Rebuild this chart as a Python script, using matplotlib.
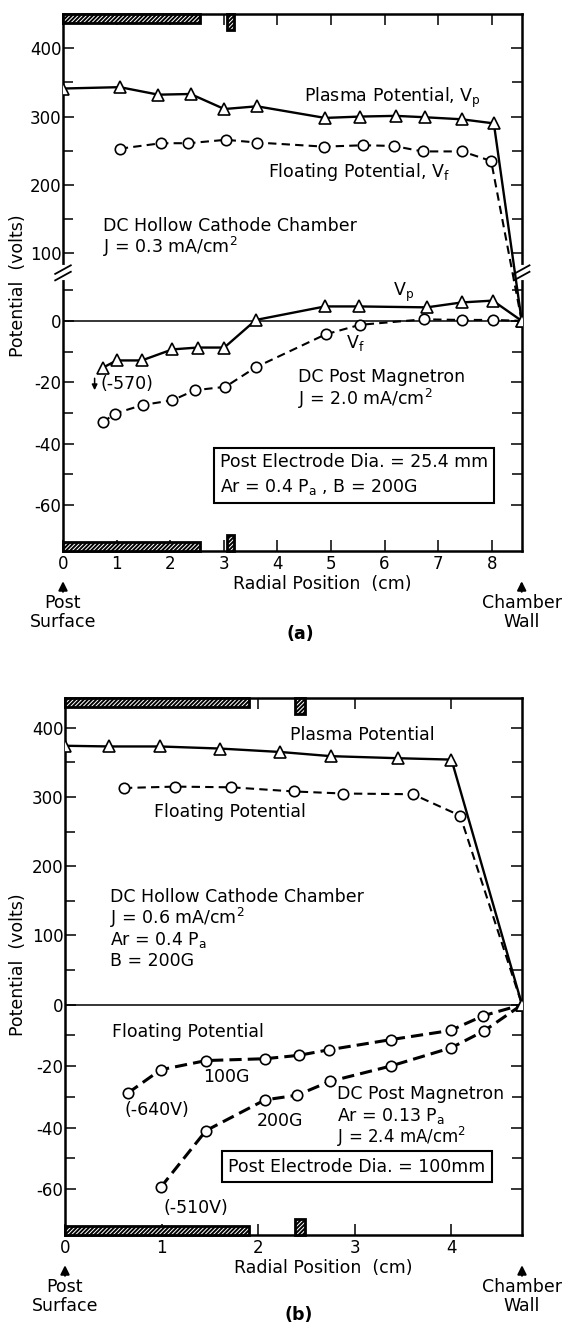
import numpy as np
import matplotlib
matplotlib.use('Agg')
import matplotlib.pyplot as plt
import matplotlib.transforms as mtransforms
from matplotlib.patches import Rectangle

plt.rcParams['font.family'] = ['DejaVu Sans']
plt.rcParams['mathtext.fontset'] = 'dejavusans'
plt.rcParams['hatch.linewidth'] = 1.4

# ---- panel (a): post dia. 25.4 mm ----
a_vp_hc_x = [0, 1.06, 1.78, 2.38, 3.01, 3.62, 4.89, 5.55, 6.21, 6.75, 7.44, 8.04, 8.56] # plasma potential, hollow cathode
a_vp_hc_y = [341, 343, 332, 333, 311, 315, 298, 300, 301, 299, 296, 290, 0]
a_vf_hc_x = [1.06, 1.83, 2.34, 3.04, 3.62, 4.87, 5.60, 6.17, 6.71, 7.45, 7.99, 8.56] # floating potential, hollow cathode
a_vf_hc_y = [253, 261, 261, 266, 262, 256, 258, 257, 249, 249, 235, 0]
a_vp_pm_x = [0.74, 1.0, 1.47, 2.04, 2.51, 3.01, 3.60, 4.89, 5.52, 6.79, 7.44, 8.02, 8.56] # plasma potential, post magnetron
a_vp_pm_y = [-15.3, -12.9, -12.9, -9.3, -8.7, -8.7, 0.3, 4.7, 4.7, 4.4, 6.0, 6.6, 0]
a_vf_pm_x = [0.74, 0.97, 1.49, 2.04, 2.46, 3.03, 3.60, 4.90, 5.54, 6.73, 7.44, 8.02, 8.56] # floating potential, post magnetron
a_vf_pm_y = [-33.1, -30.2, -27.4, -25.9, -22.6, -21.5, -15.1, -4.4, -1.3, 0.5, 0.3, 0.3, 0]

# ---- panel (b): post dia. 100 mm ----
b_vp_hc_x = [0, 0.46, 0.98, 1.60, 2.23, 2.75, 3.45, 4.0, 4.73]
b_vp_hc_y = [374, 373, 373, 370, 365, 359, 356, 354, 0]
b_vf_hc_x = [0.61, 1.14, 1.72, 2.37, 2.88, 3.60, 4.09, 4.73]
b_vf_hc_y = [313, 315, 314, 308, 305, 304, 273, 0]
b_vf_100_x = [0.65, 0.99, 1.46, 2.07, 2.42, 2.73, 3.37, 3.99, 4.33, 4.73] # 100G
b_vf_100_y = [-28.8, -21.2, -18.2, -17.6, -16.5, -14.7, -11.4, -8.4, -3.6, 0]
b_vf_200_x = [0.99, 1.46, 2.07, 2.40, 2.74, 3.37, 4.00, 4.34, 4.73] # 200G
b_vf_200_y = [-59.5, -41, -31, -29.5, -25, -20, -14, -8.5, 0]

major_y = [-60, -40, -20, 0, 100, 200, 300, 400]
FS = 12.5

#function: piecewise linear y scale, steep below the break and squeezed above it
def set_broken_scale(ax, lo_top, hi_bottom, lo_slope, hi_slope):
    if hi_bottom > lo_top:
        xp = [-1000, lo_top, hi_bottom, 5000]
        fp = [-1000 * lo_slope, lo_top * lo_slope, lo_top * lo_slope + 0.01,
              lo_top * lo_slope + 0.01 + (5000 - hi_bottom) * hi_slope]
    else:
        xp = [-1000, lo_top, 5000]
        fp = [-1000 * lo_slope, lo_top * lo_slope, lo_top * lo_slope + (5000 - lo_top) * hi_slope]
    fwd = lambda v: np.interp(v, xp, fp)
    inv = lambda u: np.interp(u, fp, xp)
    ax.set_yscale('function', functions=(fwd, inv))

#function: common frame, ticks, hatched post bars and probe
def style_panel(ax, xmax, ylim, xticks, minor_y, bar_end, probe):
    ax.set_xlim(0, xmax)
    ax.set_ylim(*ylim)
    ax.set_xticks(xticks)
    ax.set_yticks(major_y)
    ax.set_yticks(minor_y, minor=True)
    ax.set_yticklabels([str(v) for v in major_y])
    ax.tick_params(which='both', direction='in', top=True, right=True, width=1.1,
                   labelsize=FS - 0.5, colors='black')
    ax.tick_params(which='major', length=8)
    ax.tick_params(which='minor', length=7)
    ax.tick_params(axis='y', pad=1)
    ax.tick_params(axis='x', pad=3)
    for s in ax.spines.values():
        s.set_linewidth(1.8)
    ax.axhline(0, color='black', lw=1.1, zorder=1)
    trans = mtransforms.blended_transform_factory(ax.transData, ax.transAxes)
    hb = 9 / 537
    for y0 in (0, 1 - hb):
        ax.add_patch(Rectangle((0, y0), bar_end, hb, transform=trans, facecolor='white',
                               edgecolor='black', hatch='////////', lw=2.0, zorder=6, clip_on=False))
    hp = 16 / 537
    for y0 in (0, 1 - hp):
        ax.add_patch(Rectangle((probe[0], y0), probe[1] - probe[0], hp, transform=trans,
                               facecolor='white', edgecolor='black', hatch='////////', lw=2.0,
                               zorder=6, clip_on=False))
    # arrows and labels under the frame
    ax.text(0.565, -0.061, 'Radial Position  (cm)', transform=ax.transAxes, ha='center', va='center', fontsize=FS)
    for xv, lab in ((0, 'Post\nSurface'), (xmax, 'Chamber\nWall')):
        ax.annotate('', xy=(xv, -0.051), xytext=(xv, -0.081), xycoords=trans, textcoords=trans,
                    arrowprops=dict(arrowstyle='-|>', color='black', lw=1.5, mutation_scale=13),
                    annotation_clip=False)
        ax.text(xv, -0.081, lab, transform=trans, ha='center', va='top', fontsize=FS, linespacing=1.05)

#function: draw the // break marks on both vertical spines
def break_marks(ax, yval):
    yb = ax.transAxes.inverted().transform(ax.transData.transform((0, yval)))[1]
    for xs in (0, 1):
        ax.plot([xs, xs], [yb - 0.012, yb + 0.008], color='white', lw=3, transform=ax.transAxes,
                clip_on=False, zorder=7)
        for dy in (0.0, -0.012):
            ax.plot([xs - 0.017, xs + 0.017], [yb + dy - 0.004, yb + dy + 0.012], color='black', lw=1.3,
                    transform=ax.transAxes, clip_on=False, zorder=8)

def solid(ax, x, y):
    ax.plot(x, y, '-', color='black', lw=1.7, marker='^', ms=8.5, mfc='white', mec='black', mew=1.2, zorder=4)

def dashed(ax, x, y, lw=1.5, dashes=(4, 2.5)):
    ax.plot(x, y, '--', color='black', lw=lw, dashes=dashes, marker='o', ms=7.5, mfc='white', mec='black',
            mew=1.2, markevery=slice(0, -1), zorder=3)

fig = plt.figure(figsize=(5.63, 13.24), dpi=100)

# ---------- (a) ----------
ax = fig.add_axes([63 / 563, 1 - 551 / 1324, 458.7 / 563, 537 / 1324])
set_broken_scale(ax, 16, 73, 3.07, 0.684)
style_panel(ax, 8.56, (-75, 450), range(0, 9), [-50, -30, -10, 10, 150, 250, 350], 2.55, (3.06, 3.19))
break_marks(ax, 16)
dashed(ax, a_vf_hc_x, a_vf_hc_y)
solid(ax, a_vp_hc_x, a_vp_hc_y)
dashed(ax, a_vf_pm_x, a_vf_pm_y)
solid(ax, a_vp_pm_x, a_vp_pm_y)
ax.text(4.49, 327, r'Plasma Potential, V$_\mathregular{p}$', fontsize=FS, va='center')
ax.text(3.83, 219, r'Floating Potential, V$_\mathregular{f}$', fontsize=FS, va='center')
ax.text(0.75, 140, 'DC Hollow Cathode Chamber', fontsize=FS, va='center')
ax.text(0.75, 110, r'J = 0.3 mA/cm$^\mathregular{2}$', fontsize=FS, va='center')
ax.text(6.15, 9.2, r'V$_\mathregular{p}$', fontsize=FS, va='center')
ax.text(5.29, -7.1, r'V$_\mathregular{f}$', fontsize=FS, va='center')
ax.annotate('', xy=(0.59, -23.5), xytext=(0.59, -17.8),
            arrowprops=dict(arrowstyle='-|>', color='black', lw=1.1, mutation_scale=8))
ax.text(0.70, -20.7, '(-570)', fontsize=FS, va='center')
ax.text(4.38, -18.2, 'DC Post Magnetron', fontsize=FS, va='center')
ax.text(4.38, -25.4, r'J = 2.0 mA/cm$^\mathregular{2}$', fontsize=FS, va='center')
ax.text(2.93, -50.2, 'Post Electrode Dia. = 25.4 mm\n' + r'Ar = 0.4 P$_\mathregular{a}$ , B = 200G',
        fontsize=FS, va='center', linespacing=1.35,
        bbox=dict(boxstyle='square,pad=0.35', fc='white', ec='black', lw=1.5))
fig.text(18 / 563, 1 - 286 / 1324, 'Potential  (volts)', rotation=90, ha='center', va='center', fontsize=FS)
fig.text(300 / 563, 1 - 634 / 1324, '(a)', ha='center', va='center', fontsize=FS, weight='bold')

# ---------- (b) ----------
bx = fig.add_axes([65 / 563, 1 - 1235 / 1324, 457 / 563, 537 / 1324])
set_broken_scale(bx, 0, 0, 3.07, 0.692)
style_panel(bx, 4.73, (-75, 443), range(0, 5), [-50, -30, -10, 50, 150, 250, 350], 1.9, (2.38, 2.48))
dashed(bx, b_vf_hc_x, b_vf_hc_y)
solid(bx, b_vp_hc_x, b_vp_hc_y)
dashed(bx, b_vf_100_x, b_vf_100_y, lw=2.2, dashes=(4, 2))
dashed(bx, b_vf_200_x, b_vf_200_y, lw=2.2, dashes=(4, 2))
bx.plot(b_vp_hc_x[-1:], [0], '^', ms=8.5, mfc='white', mec='black', mew=1.2, zorder=5)
bx.text(2.33, 389, 'Plasma Potential', fontsize=FS, va='center')
bx.text(0.92, 279, 'Floating Potential', fontsize=FS, va='center')
bx.text(0.47, 156, 'DC Hollow Cathode Chamber', fontsize=FS, va='center')
bx.text(0.47, 125, r'J = 0.6 mA/cm$^\mathregular{2}$', fontsize=FS, va='center')
bx.text(0.47, 93, r'Ar = 0.4 P$_\mathregular{a}$', fontsize=FS, va='center')
bx.text(0.47, 63, 'B = 200G', fontsize=FS, va='center')
bx.text(0.49, -9.0, 'Floating Potential', fontsize=FS, va='center')
bx.text(1.43, -23.6, '100G', fontsize=FS, va='center')
bx.text(0.62, -34.4, '(-640V)', fontsize=FS, va='center')
bx.text(1.98, -38.0, '200G', fontsize=FS, va='center')
bx.text(2.82, -29.2, 'DC Post Magnetron', fontsize=FS, va='center')
bx.text(2.82, -36.3, r'Ar = 0.13 P$_\mathregular{a}$', fontsize=FS, va='center')
bx.text(2.82, -43.2, r'J = 2.4 mA/cm$^\mathregular{2}$', fontsize=FS - 0.5, va='center')
bx.text(1.69, -52.7, 'Post Electrode Dia. = 100mm', fontsize=FS, va='center',
        bbox=dict(boxstyle='square,pad=0.35', fc='white', ec='black', lw=1.5))
bx.text(1.02, -66.2, '(-510V)', fontsize=FS, va='center')
fig.text(18 / 563, 1 - 965 / 1324, 'Potential  (volts)', rotation=90, ha='center', va='center', fontsize=FS)
fig.text(299 / 563, 1 - 1315 / 1324, '(b)', ha='center', va='center', fontsize=FS, weight='bold')

fig.savefig('out.png', dpi=100)
